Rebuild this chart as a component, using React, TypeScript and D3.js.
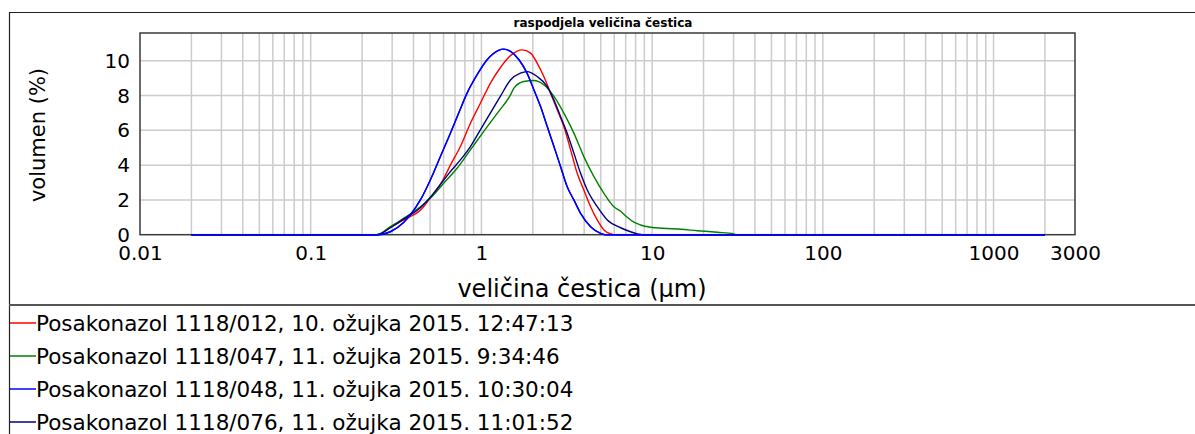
import { useEffect, useRef } from "react";
import * as d3 from "d3";

// particle size (µm) / volume (%)
const series012: [number, number][] = [
    [0.02, 0], [0.245, 0], [0.29, 0.4], [0.35, 0.85], [0.44, 1.42], [0.525, 2.38],
    [0.588, 3.05], [0.658, 4.0], [0.753, 5.07], [0.862, 6.41], [0.986, 7.56],
    [1.13, 8.72], [1.29, 9.6], [1.48, 10.3], [1.73, 10.63], [1.94, 10.44],
    [2.12, 9.87], [2.32, 9.1], [2.54, 8.14], [2.78, 7.18], [3.04, 6.22],
    [3.33, 4.88], [3.64, 3.53], [3.98, 2.57], [4.36, 1.61], [4.77, 0.85],
    [5.22, 0.27], [5.71, 0.05], [5.97, 0], [2000, 0],
];

const series047: [number, number][] = [
    [0.02, 0], [0.245, 0], [0.293, 0.46], [0.35, 0.94], [0.439, 1.61], [0.502, 2.1],
    [0.601, 2.96], [0.72, 3.82], [0.862, 4.88], [1.03, 5.93], [1.24, 6.99],
    [1.48, 8.04], [1.55, 8.43], [1.77, 8.81], [2.03, 8.87], [2.32, 8.62],
    [2.66, 7.95], [3.04, 6.99], [3.48, 5.84], [3.98, 4.49], [4.56, 3.34],
    [5.22, 2.38], [5.97, 1.61], [6.54, 1.35], [7.15, 1.0], [7.82, 0.72],
    [8.56, 0.56], [9.8, 0.43], [11.5, 0.37], [14.7, 0.31], [18.4, 0.23],
    [24.1, 0.14], [30.1, 0.05], [31, 0], [2000, 0],
];

const series048: [number, number][] = [
    [0.02, 0], [0.245, 0], [0.293, 0.17], [0.35, 0.7], [0.383, 1.13], [0.439, 2.0],
    [0.502, 3.15], [0.575, 4.5], [0.658, 5.84], [0.736, 7.0], [0.824, 8.14],
    [0.944, 9.2], [1.08, 10.06], [1.26, 10.6], [1.35, 10.67], [1.48, 10.54],
    [1.66, 10.06], [1.85, 9.29], [2.03, 8.33], [2.22, 7.37], [2.43, 6.22],
    [2.66, 5.07], [2.91, 3.91], [3.18, 2.76], [3.48, 2.0], [3.81, 1.23],
    [4.36, 0.46], [4.99, 0.08], [5.3, 0], [2000, 0],
];

const series076: [number, number][] = [
    [0.02, 0], [0.245, 0], [0.293, 0.4], [0.35, 0.9], [0.439, 1.55], [0.502, 2.15],
    [0.658, 3.63], [0.753, 4.3], [0.862, 5.07], [0.986, 6.03], [1.13, 7.0],
    [1.29, 7.95], [1.48, 8.9], [1.69, 9.29], [1.85, 9.38], [2.12, 9.1],
    [2.43, 8.52], [2.66, 7.75], [2.91, 6.79], [3.18, 5.84], [3.48, 4.69],
    [3.81, 3.53], [4.17, 2.57], [4.77, 1.61], [5.46, 0.85], [6.54, 0.4],
    [7.48, 0.17], [8.19, 0.05], [9.4, 0], [2000, 0],
];

const legendLabels = [
    "Posakonazol 1118/012, 10. ožujka 2015. 12:47:13",
    "Posakonazol 1118/047, 11. ožujka 2015. 9:34:46",
    "Posakonazol 1118/048, 11. ožujka 2015. 10:30:04",
    "Posakonazol 1118/076, 11. ožujka 2015. 11:01:52",
];
const seriesColors = ["#ff0000", "#008000", "#0000ff", "#000080"];
const allSeries = [series012, series047, series048, series076];

const xTicks = [0.01, 0.1, 1, 10, 100, 1000, 3000];
const yTicks = [0, 2, 4, 6, 8, 10];

const W = 1195;
const H = 434;
const FONT = "'DejaVu Sans', sans-serif";

export default function App() {
    const svgRef = useRef<SVGSVGElement>(null);

    useEffect(() => {
        if (!svgRef.current) return;
        const svg = d3.select(svgRef.current);
        svg.selectAll("*").remove();

        const plot = { left: 140, top: 33, right: 1075, bottom: 234.7 };

        const x = d3.scaleLog().domain([0.01, 3000]).range([plot.left, plot.right]);
        const y = d3.scaleLinear().domain([0, 11.6]).range([plot.bottom, plot.top]);

        svg.append("rect").attr("width", W).attr("height", H).attr("fill", "#fff");

        // outer frame + legend separator
        svg.append("path")
            .attr("d", `M9.5,${H} V12.5 H${W}`)
            .attr("fill", "none")
            .attr("stroke", "#222")
            .attr("stroke-width", 1.2);
        svg.append("line")
            .attr("x1", 9).attr("x2", W)
            .attr("y1", 305).attr("y2", 305)
            .attr("stroke", "#555")
            .attr("stroke-width", 2);

        // grid
        const grid = svg.append("g").attr("stroke", "#cccccc").attr("stroke-width", 1.5);
        grid.selectAll("line.v")
            .data(x.ticks().filter((v) => v > 0.0101 && v < 2999))
            .enter()
            .append("line")
            .attr("x1", (d) => x(d)).attr("x2", (d) => x(d))
            .attr("y1", plot.top).attr("y2", plot.bottom);
        grid.selectAll("line.h")
            .data(yTicks.filter((v) => v > 0))
            .enter()
            .append("line")
            .attr("x1", plot.left).attr("x2", plot.right)
            .attr("y1", (d) => y(d)).attr("y2", (d) => y(d));

        // plot frame
        svg.append("rect")
            .attr("x", plot.left).attr("y", plot.top)
            .attr("width", plot.right - plot.left)
            .attr("height", plot.bottom - plot.top)
            .attr("fill", "none")
            .attr("stroke", "#3a3a3a")
            .attr("stroke-width", 1.5);

        // curves
        const line = d3.line<[number, number]>()
            .x((d) => x(d[0]))
            .y((d) => y(d[1]))
            .curve(d3.curveMonotoneX);
        allSeries.forEach((s, i) => {
            svg.append("path")
                .datum(s)
                .attr("d", line)
                .attr("fill", "none")
                .attr("stroke", seriesColors[i])
                .attr("stroke-width", 1.4);
        });
        // blue baseline sits on top of the others
        svg.append("path")
            .datum(series048)
            .attr("d", line)
            .attr("fill", "none")
            .attr("stroke", seriesColors[2])
            .attr("stroke-width", 1.4);

        // axes
        const yAxis = svg.append("g")
            .attr("transform", `translate(${plot.left},0)`)
            .call(d3.axisLeft(y).tickValues(yTicks).tickSize(0).tickPadding(10).tickFormat(d3.format("d")));
        yAxis.select(".domain").remove();
        yAxis.selectAll("text")
            .style("font-family", FONT)
            .style("font-size", "20px")
            .style("fill", "#000");

        const xAxis = svg.append("g")
            .attr("transform", `translate(0,${plot.bottom})`)
            .call(d3.axisBottom(x).tickValues(xTicks).tickSize(0).tickPadding(11).tickFormat((d) => String(d)));
        xAxis.select(".domain").remove();
        xAxis.selectAll("text")
            .style("font-family", FONT)
            .style("font-size", "20px")
            .style("fill", "#000");

        // title and axis labels
        svg.append("text")
            .attr("x", 603).attr("y", 27)
            .attr("text-anchor", "middle")
            .style("font-family", FONT)
            .style("font-size", "12px")
            .style("font-weight", "bold")
            .style("fill", "#000")
            .text("raspodjela veličina čestica");

        svg.append("text")
            .attr("transform", "translate(45,135) rotate(-90)")
            .attr("text-anchor", "middle")
            .style("font-family", FONT)
            .style("font-size", "21px")
            .style("fill", "#000")
            .text("volumen (%)");

        svg.append("text")
            .attr("x", 582).attr("y", 297)
            .attr("text-anchor", "middle")
            .style("font-family", FONT)
            .style("font-size", "24px")
            .style("fill", "#000")
            .text("veličina čestica (µm)");

        // legend
        const legend = svg.append("g")
            .selectAll("g")
            .data(legendLabels)
            .enter()
            .append("g")
            .attr("transform", (d, i) => `translate(0,${323 + i * 33})`);
        legend.append("line")
            .attr("x1", 10).attr("x2", 36)
            .attr("stroke", (d, i) => seriesColors[i])
            .attr("stroke-width", 1.5);
        legend.append("text")
            .attr("x", 36)
            .attr("dy", "0.36em")
            .style("font-family", FONT)
            .style("font-size", "21.5px")
            .style("fill", "#000")
            .text((d) => d);
    }, []);

    return (
        <svg
            ref={svgRef}
            width={W}
            height={H}
            style={{ position: "absolute", left: 0, top: 0, display: "block" }}
        ></svg>
    );
}
